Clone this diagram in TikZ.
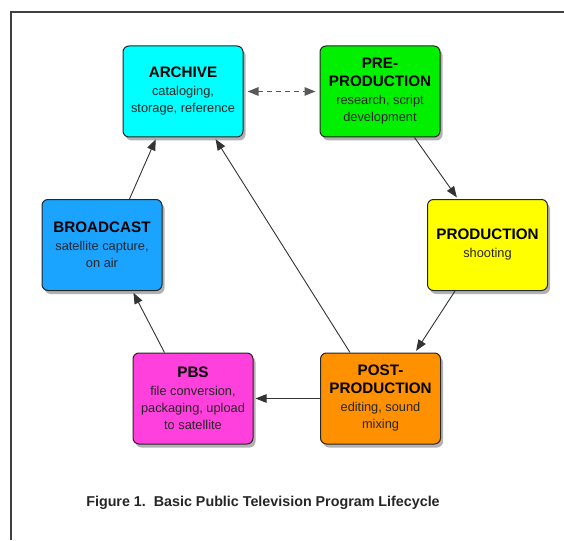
\documentclass[tikz,border=0pt]{standalone}
\usepackage{fontspec}
\setmainfont{Liberation Sans}
\usetikzlibrary{arrows.meta,shadows,calc}
\definecolor{cArchive}{RGB}{0,255,255}
\definecolor{cPre}{RGB}{0,240,0}
\definecolor{cProd}{RGB}{255,255,0}
\definecolor{cBroad}{RGB}{26,163,255}
\definecolor{cPbs}{RGB}{255,64,221}
\definecolor{cPost}{RGB}{255,145,0}
\tikzset{
  stagebox/.style={draw=black!85, line width=1pt, rounded corners=6pt,
    minimum width=120pt, minimum height=91pt, align=center, inner sep=2pt,
    font=\fontsize{12.8}{17}\selectfont, text=black!85,
    drop shadow={shadow xshift=2.5pt, shadow yshift=-3.5pt, fill=black, opacity=0.3}},
  flow/.style={draw=black!80, line width=0.9pt, -{Triangle[length=11pt,width=8.5pt]}, shorten >=2pt}
}
\newcommand{\ttlfont}{\fontsize{15.2}{19.5}\selectfont\bfseries\color{black}}
\begin{document}
\begin{tikzpicture}[x=1pt,y=-1pt]
\useasboundingbox (0,0) rectangle (564,540);
\draw[black!75, line width=1.4pt] (564,12) -- (11,12) -- (11,540);
\node[stagebox, fill=cArchive] (archive) at (183,91.5) {{\ttlfont ARCHIVE}\\[1pt]cataloging,\\storage, reference};
\node[stagebox, fill=cPre] (pre) at (380,91.5) {{\ttlfont PRE-}\\[1pt]{\ttlfont PRODUCTION}\\[1pt]research, script\\development};
\node[stagebox, fill=cProd] (prod) at (487.5,245) {{\ttlfont PRODUCTION}\\[1pt]shooting};
\node[stagebox, fill=cBroad] (broad) at (102,245) {{\ttlfont BROADCAST}\\[1pt]satellite capture,\\on air};
\node[stagebox, fill=cPbs] (pbs) at (193,398.5) {{\ttlfont PBS}\\[1pt]file conversion,\\packaging, upload\\to satellite};
\node[stagebox, fill=cPost] (post) at (380.5,398.5) {{\ttlfont POST-}\\[1pt]{\ttlfont PRODUCTION}\\[1pt]editing, sound\\mixing};
\draw[draw=black!65, line width=1.3pt, dash pattern=on 5pt off 4pt,
  {Triangle[length=11pt,width=8.5pt]}-{Triangle[length=11pt,width=8.5pt]}, shorten <=4pt, shorten >=4pt]
  (archive.east) -- (pre.west);
\draw[flow] ($(pre.south west)+(95,0)$) -- ($(prod.north west)+(31,0)$);
\draw[flow] ($(prod.south west)+(28,0)$) -- ($(post.north west)+(95,0)$);
\draw[flow] (post.west) -- (pbs.east);
\draw[flow] ($(pbs.north west)+(32,0)$) -- ($(broad.south west)+(91,0)$);
\draw[flow] ($(broad.north west)+(88,0)$) -- ($(archive.south west)+(34,0)$);
\draw[flow] ($(post.north west)+(30,0)$) -- ($(archive.south west)+(92,0)$);
\node[font=\fontsize{14.3}{17}\selectfont\bfseries, text=black!85] (caption) at (263,503) {Figure 1.\ \ Basic Public Television Program Lifecycle};
\end{tikzpicture}
\end{document}
